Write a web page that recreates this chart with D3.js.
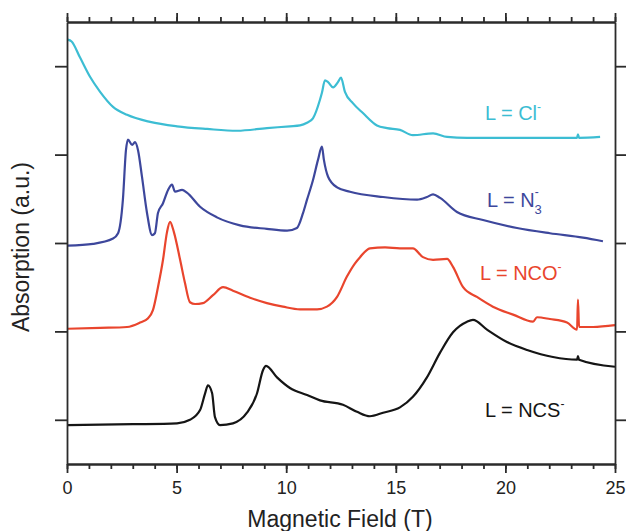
<!DOCTYPE html>
<html>
<head>
<meta charset="utf-8">
<script src="https://cdn.jsdelivr.net/npm/d3@7"></script>
<style>
    body { margin: 0; background: #fff; }
    svg { display: block; font-family: "Liberation Sans", Arial, sans-serif; }
    .axis path, .axis line { stroke: #2b2b2b; stroke-width: 1.8; }
    .axis text { font-size: 18px; fill: #222; }
</style>
</head>
<body>
<svg id="svg" width="626" height="531"></svg>
<script>
// spectra: [field (T), absorption (a.u., offset)]
var cl = [[0.03,5.30],[0.21,5.28],[0.59,5.10],[1.05,4.88],[1.51,4.71],[2.10,4.54],[2.74,4.45],[3.79,4.37],[5.02,4.32],
    [6.39,4.29],[7.76,4.27],[9.12,4.30],[10.17,4.32],[10.63,4.33],[10.95,4.36],[11.22,4.41],[11.54,4.62],[11.63,4.70],
    [11.77,4.84],[11.91,4.82],[12.14,4.76],[12.36,4.82],[12.50,4.87],[12.68,4.71],[13.05,4.58],[13.50,4.47],[14.14,4.33],
    [14.60,4.30],[15.19,4.28],[15.78,4.22],[16.70,4.24],[17.34,4.20],[18.25,4.19],[19.75,4.19],[21.26,4.19],[23.27,4.19],
    [23.31,4.23],[23.36,4.19],[24.32,4.20]];

var n3 = [[0.03,2.97],[1.19,2.99],[2.10,3.05],[2.33,3.11],[2.55,3.49],[2.69,4.05],[2.78,4.17],[2.97,4.11],[3.10,4.14],
    [3.24,4.05],[3.42,3.75],[3.65,3.34],[3.88,3.09],[4.01,3.11],[4.15,3.34],[4.38,3.45],[4.61,3.60],[4.79,3.66],[4.93,3.58],
    [5.25,3.60],[5.47,3.57],[6.07,3.41],[6.84,3.29],[7.89,3.20],[9.12,3.16],[10.04,3.14],[10.49,3.17],[10.77,3.34],
    [10.95,3.49],[11.22,3.71],[11.45,3.94],[11.63,4.09],[11.72,3.94],[11.91,3.75],[12.32,3.63],[12.91,3.58],[14.42,3.52],
    [15.97,3.49],[16.42,3.52],[16.70,3.55],[17.02,3.51],[17.79,3.35],[18.98,3.26],[20.53,3.17],[22.03,3.11],[23.54,3.06],
    [24.45,3.02]];

var nco = [[0.03,2.03],[1.51,2.04],[2.74,2.05],[3.33,2.10],[3.70,2.15],[3.92,2.24],[4.15,2.50],[4.38,2.81],[4.56,3.12],
    [4.70,3.24],[4.88,3.12],[5.16,2.81],[5.38,2.55],[5.61,2.33],[5.84,2.31],[6.20,2.32],[6.66,2.41],[7.12,2.50],[7.57,2.46],
    [8.35,2.38],[9.12,2.32],[9.85,2.28],[10.63,2.25],[11.41,2.25],[11.86,2.28],[12.32,2.39],[12.77,2.62],[13.14,2.77],
    [13.37,2.84],[13.82,2.94],[14.51,2.95],[15.19,2.94],[15.78,2.94],[16.24,2.84],[16.70,2.81],[17.34,2.82],[17.61,2.73],
    [18.07,2.50],[18.70,2.39],[19.43,2.28],[20.35,2.19],[21.26,2.11],[21.44,2.16],[22.03,2.14],[22.81,2.10],[23.27,2.02],
    [23.31,2.36],[23.36,2.05],[24.00,2.05],[25.00,2.07]];

var ncs = [[0.03,0.94],[3.01,0.95],[5.02,0.96],[5.61,1.00],[6.07,1.11],[6.30,1.30],[6.43,1.39],[6.62,1.30],[6.75,1.03],
    [6.98,0.94],[7.57,0.96],[8.21,1.08],[8.67,1.30],[8.94,1.56],[9.08,1.61],[9.58,1.48],[10.17,1.36],[10.95,1.28],
    [11.54,1.22],[12.59,1.17],[13.23,1.09],[13.82,1.04],[14.42,1.08],[15.19,1.14],[15.78,1.26],[16.42,1.48],[17.02,1.76],
    [17.61,1.99],[18.25,2.11],[18.52,2.13],[19.16,2.02],[20.07,1.88],[20.99,1.79],[22.17,1.71],[23.27,1.68],[23.31,1.72],
    [23.36,1.68],[25.00,1.60]];

// ligand names, label text parts
var ligands = ["Cl", "N", "NCO", "NCS"];
var subscripts = ["", "3", "", ""];
var xTicks = [0, 5, 10, 15, 20, 25];
var yTicks = [1, 2, 3, 4, 5];

var svg = d3.select("svg"),
    margin = {top: 22, right: 11, bottom: 67, left: 67},
    width = 626 - margin.left - margin.right,
    height = 531 - margin.top - margin.bottom;

var g = svg.append("g").attr("transform", "translate(" + margin.left + "," + margin.top + ")");

var x = d3.scaleLinear().domain([0, 25]).range([0, width]);
var y = d3.scaleLinear().domain([0.5, 5.5]).range([height, 0]);

var line = d3.line()
    .x(function (d) { return x(d[0]); })
    .y(function (d) { return y(d[1]); })
    .curve(d3.curveMonotoneX);

var series = [
    {data: cl, color: "#3cbdd3"},
    {data: n3, color: "#3d479c"},
    {data: nco, color: "#e9452d"},
    {data: ncs, color: "#151515"}
];

// curves
series.forEach(function (s) {
    g.append("path")
        .datum(s.data)
        .attr("fill", "none")
        .attr("stroke", s.color)
        .attr("stroke-width", 2.2)
        .attr("stroke-linejoin", "round")
        .attr("d", line);
});

// minor ticks every 1 T on top and bottom
g.append("g")
    .attr("class", "axis")
    .attr("transform", "translate(0," + height + ")")
    .call(d3.axisBottom(x).tickValues(d3.range(0, 26, 1)).tickSize(5).tickSizeOuter(0).tickFormat(""));
g.append("g")
    .attr("class", "axis")
    .call(d3.axisTop(x).tickValues(d3.range(0, 26, 1)).tickSize(5).tickSizeOuter(0).tickFormat(""));

// major ticks
g.append("g")
    .attr("class", "axis")
    .attr("transform", "translate(0," + height + ")")
    .call(d3.axisBottom(x).tickValues(xTicks).tickSize(9).tickSizeOuter(0).tickPadding(8));
g.append("g")
    .attr("class", "axis")
    .call(d3.axisTop(x).tickValues(xTicks).tickSize(9).tickSizeOuter(0).tickFormat(""));

g.append("g")
    .attr("class", "axis")
    .call(d3.axisLeft(y).tickValues(yTicks).tickSize(12).tickSizeOuter(0).tickFormat(""));
g.append("g")
    .attr("class", "axis")
    .attr("transform", "translate(" + width + ",0)")
    .call(d3.axisRight(y).tickValues(yTicks).tickSize(12).tickSizeOuter(0).tickFormat(""));

// labels next to each curve
var labelPos = [[19.07, 4.39], [19.16, 3.41], [18.84, 2.58], [19.07, 1.03]];
ligands.forEach(function (name, i) {
    var t = g.append("text")
        .attr("x", x(labelPos[i][0]))
        .attr("y", y(labelPos[i][1]))
        .attr("fill", series[i].color)
        .style("font-size", "20px");
    t.append("tspan").text("L = " + name);
    if (subscripts[i]) {
        t.append("tspan").attr("dy", 7).style("font-size", "13px").text(subscripts[i]);
        t.append("tspan").attr("dx", -7).attr("dy", -18).style("font-size", "12px").text("-");
    } else {
        t.append("tspan").attr("dy", -9).style("font-size", "12px").text("-");
    }
});

// axis titles
svg.append("text")
    .attr("x", margin.left + width / 2 - 1)
    .attr("y", 527)
    .attr("text-anchor", "middle")
    .style("font-size", "23px")
    .attr("fill", "#222")
    .text("Magnetic Field (T)");

svg.append("text")
    .attr("transform", "translate(29," + (margin.top + height / 2 + 4) + ") rotate(-90)")
    .attr("text-anchor", "middle")
    .style("font-size", "23px")
    .attr("fill", "#222")
    .text("Absorption (a.u.)");
</script>
</body>
</html>
